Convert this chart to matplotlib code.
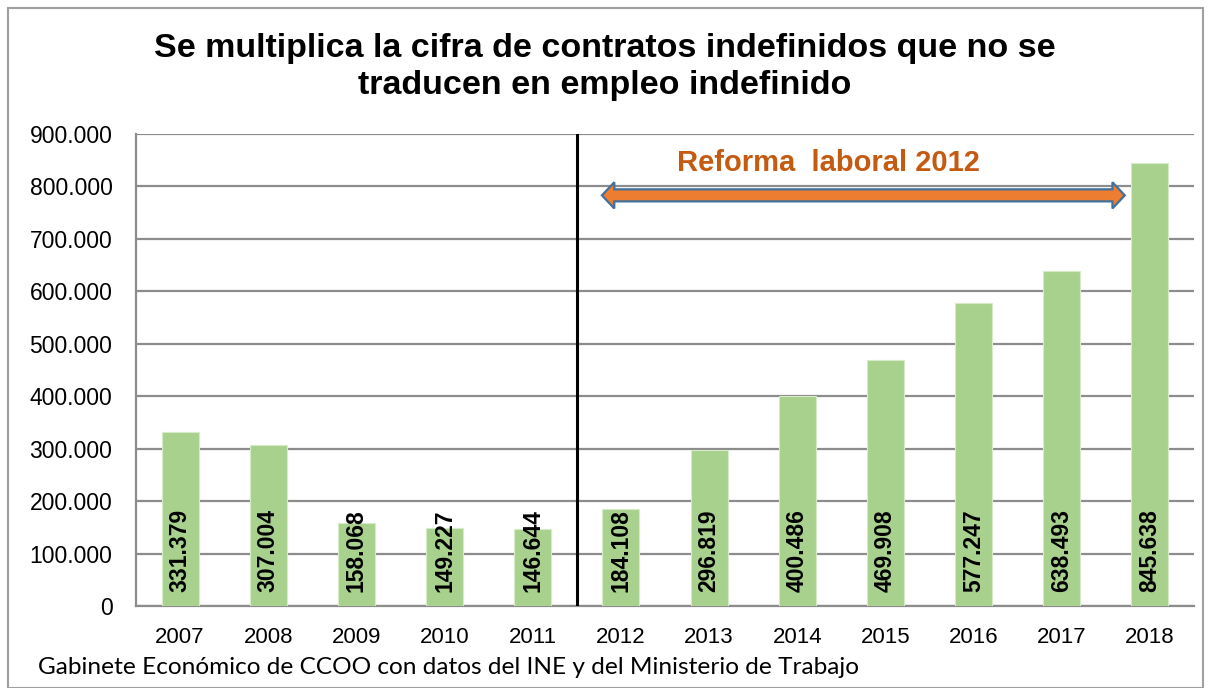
import matplotlib.pyplot as plt
import matplotlib.patches as mpatches
from matplotlib.ticker import FuncFormatter

years = ['2007', '2008', '2009', '2010', '2011', '2012',
         '2013', '2014', '2015', '2016', '2017', '2018']
contratos = [331379, 307004, 158068, 149227, 146644, 184108,
             296819, 400486, 469908, 577247, 638493, 845638]

plt.rcParams['font.family'] = ['Liberation Sans', 'DejaVu Sans']

fig = plt.figure(figsize=(12.09, 6.88), dpi=100)
ax = fig.add_axes([136 / 1209, 1 - 606 / 688, (1194 - 136) / 1209, (606 - 134) / 688])

x = list(range(len(years)))
ax.bar(x, contratos, width=0.42, color='#A9D18E', edgecolor='#D6EBC8',
       linewidth=0.8, zorder=3)

for xi, v in zip(x, contratos):
    lab = f'{v:,}'.replace(',', '.')
    ax.text(xi, 26000, lab, rotation=90, ha='center', va='bottom',
            fontsize=16.5, fontweight='bold', color='black', zorder=4)

ax.set_xlim(-0.5, len(years) - 0.5)
ax.set_ylim(0, 900000)
ax.set_yticks(range(0, 900001, 100000))
ax.yaxis.set_major_formatter(FuncFormatter(lambda v, p: f'{int(v):,}'.replace(',', '.')))
ax.set_xticks(x)
ax.set_xticklabels(years)
ax.tick_params(axis='y', length=0, labelsize=16.5, pad=17)
ax.tick_params(axis='x', length=0, labelsize=16, pad=15)
ax.grid(axis='y', color='#8C8C8C', linewidth=1.6, zorder=0)

for s in ['top', 'right']:
    ax.spines[s].set_visible(False)
for s in ['left', 'bottom']:
    ax.spines[s].set_color('#8C8C8C')
    ax.spines[s].set_linewidth(1.6)

# separator before the 2012 reform
ax.axvline(4.5, color='black', linewidth=2.2, zorder=5)

# double-headed block arrow for the reform period
x0, x1, yc = 4.785, 10.715, 783000
hw, hh, hl = 11500, 25000, 0.14
pts = [(x0, yc), (x0 + hl, yc + hh), (x0 + hl, yc + hw), (x1 - hl, yc + hw),
       (x1 - hl, yc + hh), (x1, yc), (x1 - hl, yc - hh), (x1 - hl, yc - hw),
       (x0 + hl, yc - hw), (x0 + hl, yc - hh)]
ax.add_patch(mpatches.Polygon(pts, closed=True, fc='#ED7D31', ec='#41719C',
                              lw=1.6, zorder=6))
ax.text(7.35, 845000, 'Reforma  laboral 2012', ha='center', va='center',
        fontsize=21, fontweight='bold', color='#C55A11', zorder=7)

fig.text(0.5, 1 - 67 / 688, 'Se multiplica la cifra de contratos indefinidos que no se\ntraducen en empleo indefinido',
         ha='center', va='center', fontsize=24.5, fontweight='bold', linespacing=1.22)

fig.text(38 / 1209, 1 - 668 / 688,
         'Gabinete Económico de CCOO con datos del INE y del Ministerio de Trabajo',
         ha='left', va='center', fontsize=17.6, family=['Lato', 'DejaVu Sans'])

fig.patches.append(mpatches.Rectangle((8 / 1209, 0), 1195 / 1209, 1 - 8 / 688,
                                      transform=fig.transFigure, fill=False,
                                      ec='#A0A0A0', lw=1.5))

fig.savefig('out.png', dpi=100)
